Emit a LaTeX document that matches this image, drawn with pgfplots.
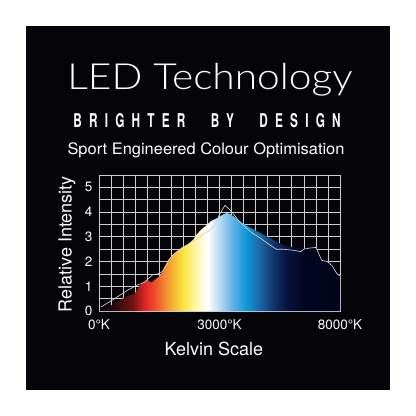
\documentclass[border=0pt]{standalone}
\usepackage{fontspec}
\setmainfont{TeX Gyre Heros}
\newfontfamily\titlefont{Lato Light}
\newfontfamily\subfont{TeX Gyre Heros}[UprightFont=* Bold, FakeStretch=0.62, LetterSpace=38]
\usepackage{pgfplots}
\pgfplotsset{compat=1.18}
\definecolor{bg}{RGB}{5,5,9}
\definecolor{gridc}{RGB}{205,205,205}
\definecolor{linec}{RGB}{210,210,210}
\pgfdeclarehorizontalshading{spectrum}{100bp}{%
rgb(0bp)=(0.05,0.02,0.02);
rgb(25bp)=(0.05,0.02,0.02);
rgb(28.75bp)=(0.2,0.04,0.05);
rgb(32bp)=(0.45,0.07,0.08);
rgb(34.5bp)=(0.88,0.15,0.15);
rgb(36.5bp)=(0.93,0.3,0.17);
rgb(38.75bp)=(0.95,0.55,0.2);
rgb(40.75bp)=(0.97,0.75,0.2);
rgb(42.5bp)=(0.98,0.9,0.25);
rgb(45bp)=(1,0.96,0.65);
rgb(47.5bp)=(1,1,1);
rgb(50bp)=(0.72,0.85,0.95);
rgb(53bp)=(0.35,0.68,0.9);
rgb(55.5bp)=(0.05,0.6,0.85);
rgb(58.25bp)=(0.12,0.4,0.65);
rgb(61.25bp)=(0.06,0.2,0.42);
rgb(63.75bp)=(0.03,0.08,0.25);
rgb(67.5bp)=(0.01,0.02,0.13);
rgb(75bp)=(0.01,0.01,0.1);
rgb(100bp)=(0.01,0.01,0.1)}
\begin{document}
\begin{tikzpicture}
\fill[white] (0,0) rectangle (416bp,416bp);
\fill[bg] (26bp,26bp) rectangle (390bp,390bp);
\node[anchor=base, text=white, inner sep=0pt] at (210bp,326.7bp) {\scalebox{1.13}[1]{\fontsize{36bp}{40bp}\titlefont LED Technology}};
\node[anchor=base, text=white, inner sep=0pt] at (207bp,288.7bp) {\fontsize{19bp}{21bp}\subfont BRIGHTER\hspace{15bp} BY\hspace{15bp} DESIGN};
\node[anchor=base, text=white, inner sep=0pt] at (206bp,261.7bp) {\scalebox{1.04}[1]{\fontsize{15.8bp}{18bp}\selectfont Sport Engineered Colour Optimisation}};
\begin{axis}[
  at={(99bp,105bp)}, anchor=south west,
  scale only axis, width=241bp, height=136bp,
  xmin=0, xmax=20, ymin=0, ymax=5.5,
  xtick={0,10,20}, xticklabels={0°K,3000°K,8000°K},
  ytick={0,1,2,3,4,5},
  minor xtick={0,1,...,20},
  minor ytick={0,0.5,1,1.5,2,2.5,3,3.5,4,4.5,5,5.5},
  grid=minor,
  minor grid style={draw=gridc, line width=0.7bp},
  major tick length=0pt, minor tick length=0pt,
  axis line style={draw=gridc, line width=0.8bp},
  /pgf/number format/assume math mode=true,
  tick label style={text=white, font=\fontsize{13.5bp}{14bp}\selectfont},
  xticklabel style={yshift=-5bp},
  yticklabel style={xshift=-3bp},
  xlabel={Kelvin Scale}, ylabel={Relative Intensity},
  label style={text=white, font=\fontsize{18bp}{20bp}\selectfont},
  xlabel style={at={(axis description cs:0.477,-0.279)}, anchor=center},
  ylabel style={at={(axis description cs:-0.133,0.49)}, anchor=center, rotate=0},
  clip=false,
]
\addplot[draw=none, shading=spectrum] coordinates {
(0,0) (0.15,0.02) (0.5,0.1) (1.0,0.22) (1.5,0.35) (2.0,0.5) (2.4,0.62) (2.95,0.68)
(3.2,0.9) (3.5,1.08) (3.76,1.19) (4.03,1.23) (4.36,1.15) (4.63,1.26) (5.0,1.39)
(5.26,1.6) (5.53,1.87) (5.8,2.07) (6.1,2.26) (6.5,2.42) (7.0,2.6) (7.42,2.72)
(7.83,2.89) (8.1,3.09) (8.5,3.3) (8.9,3.46) (9.3,3.64) (9.87,3.77) (10.28,3.9)
(10.63,3.97) (10.96,3.9) (11.5,3.7) (12.05,3.5) (12.6,3.36) (13.05,3.24) (13.6,3.1)
(14.15,2.97) (14.7,2.81) (15.25,2.68) (15.8,2.59) (16.34,2.57) (16.9,2.5) (17.3,2.54)
(17.7,2.57) (18.0,2.57) (18.26,2.3) (18.48,2.05) (18.95,2.0) (19.36,1.82) (19.57,1.65)
(19.77,1.49) (20,1.46)
} \closedcycle;
\addplot[draw=linec, line width=0.65bp, mark=none] coordinates {
(0.16,0.16) (1.3,0.5) (2.4,0.85) (3.2,1.05) (3.76,1.16) (4.44,1.46) (4.85,1.5)
(5.26,1.6) (5.53,1.8) (5.8,2.07) (6.2,2.3) (6.87,2.55) (7.54,2.73) (8.37,3.0)
(9.2,3.27) (9.6,3.47) (10.0,3.9) (10.45,4.27) (10.8,4.12) (11.2,3.9) (11.6,3.64)
(12.05,3.43) (12.7,3.16) (13.33,2.97) (14.0,2.73) (14.7,2.5) (15.25,2.5) (16.07,2.46)
(16.75,2.4) (17.0,2.5) (17.4,2.54) (18.0,2.57) (18.2,2.36) (18.48,2.05) (18.95,2.0)
(19.36,1.82) (19.57,1.65) (19.77,1.49) (20,1.42)
};
\end{axis}
\pgfresetboundingbox
\useasboundingbox (0,0) rectangle (416bp,416bp);
\end{tikzpicture}
\end{document}
